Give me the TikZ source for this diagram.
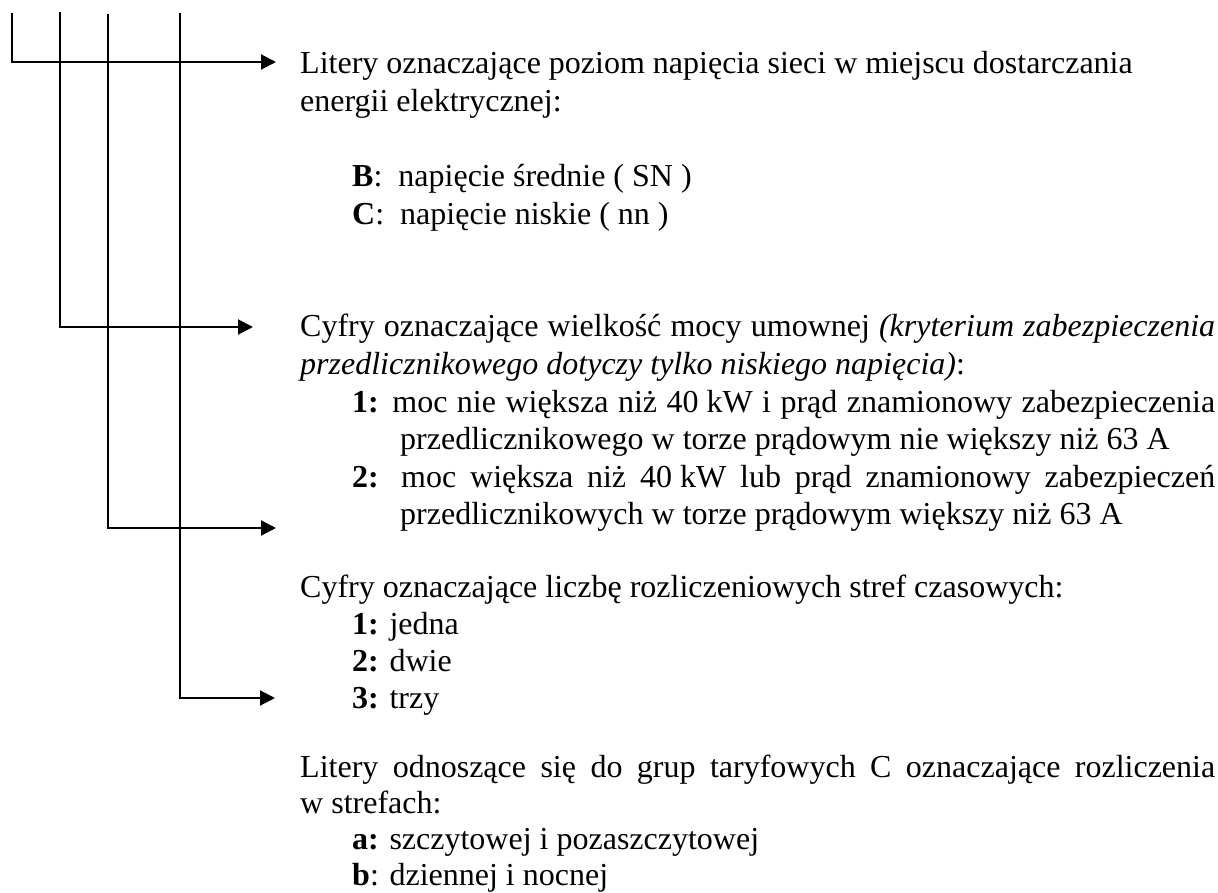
\documentclass[tikz,border=0pt]{standalone}
\usepackage{fontspec}
\setmainfont{Liberation Serif}
\usetikzlibrary{arrows.meta}
\begin{document}
\begin{tikzpicture}[x=1pt,y=-1pt,
  arr/.style={line width=2pt,line join=miter,-{Triangle[length=15pt,width=15pt]}},
  txt/.style={anchor=base west,inner sep=0pt,font=\fontsize{32}{36}\selectfont}]
\useasboundingbox (0,0) rectangle (1218,893);
% connectors
\coordinate (t1) at (12,13);  \coordinate (c1) at (12,62);  \coordinate (e1) at (276,62);
\coordinate (t2) at (60,12);  \coordinate (c2) at (60,327); \coordinate (e2) at (253,327);
\coordinate (t3) at (108,14); \coordinate (c3) at (108,528);\coordinate (e3) at (276,528);
\coordinate (t4) at (180,13); \coordinate (c4) at (180,698);\coordinate (e4) at (275,698);
\draw[arr] (t1) -- (c1) -- (e1);
\draw[arr] (t2) -- (c2) -- (e2);
\draw[arr] (t3) -- (c3) -- (e3);
\draw[arr] (t4) -- (c4) -- (e4);
% text
\node[txt] (l1) at (300,74) {Litery oznaczające poziom napięcia sieci w miejscu dostarczania};
\node[txt] (l2) at (300,111.5) {energii elektrycznej:};
\node[txt] (l4) at (352,187) {\textbf{B}: \ napięcie średnie ( SN )};
\node[txt] (l5) at (352,224.5) {\textbf{C}: \ napięcie niskie ( nn )};
\node[txt] (l8) at (300,337) {\makebox[915pt][s]{Cyfry oznaczające wielkość mocy umownej \textit{(kryterium zabezpieczenia}}};
\node[txt] (l9) at (300,374.5) {\textit{przedlicznikowego dotyczy tylko niskiego napięcia)}:};
\node[txt] (l10) at (352,412) {\makebox[863pt][s]{\textbf{1:} moc nie większa niż 40\hspace{0.25em}kW i prąd znamionowy zabezpieczenia}};
\node[txt] (l11) at (400,449.5) {przedlicznikowego w torze prądowym nie większy niż 63 A};
\node[txt] (l12) at (352,487) {\makebox[863pt][s]{\textbf{2:} moc większa niż 40\hspace{0.25em}kW lub prąd znamionowy zabezpieczeń}};
\node[txt] (l13) at (400,524.5) {przedlicznikowych w torze prądowym większy niż 63 A};
\node[txt] (l15) at (300,597) {Cyfry oznaczające liczbę rozliczeniowych stref czasowych:};
\node[txt] (l16) at (352,634) {\textbf{1:} jedna};
\node[txt] (l17) at (352,671) {\textbf{2:} dwie};
\node[txt] (l18) at (352,708) {\textbf{3:} trzy};
\node[txt] (l20) at (300,777) {\makebox[915pt][s]{Litery odnoszące się do grup taryfowych C oznaczające rozliczenia}};
\node[txt] (l21) at (300,813) {w strefach:};
\node[txt] (l22) at (352,849) {\textbf{a:} szczytowej i pozaszczytowej};
\node[txt] (l23) at (352,885) {\textbf{b}: dziennej i nocnej};
\end{tikzpicture}
\end{document}
